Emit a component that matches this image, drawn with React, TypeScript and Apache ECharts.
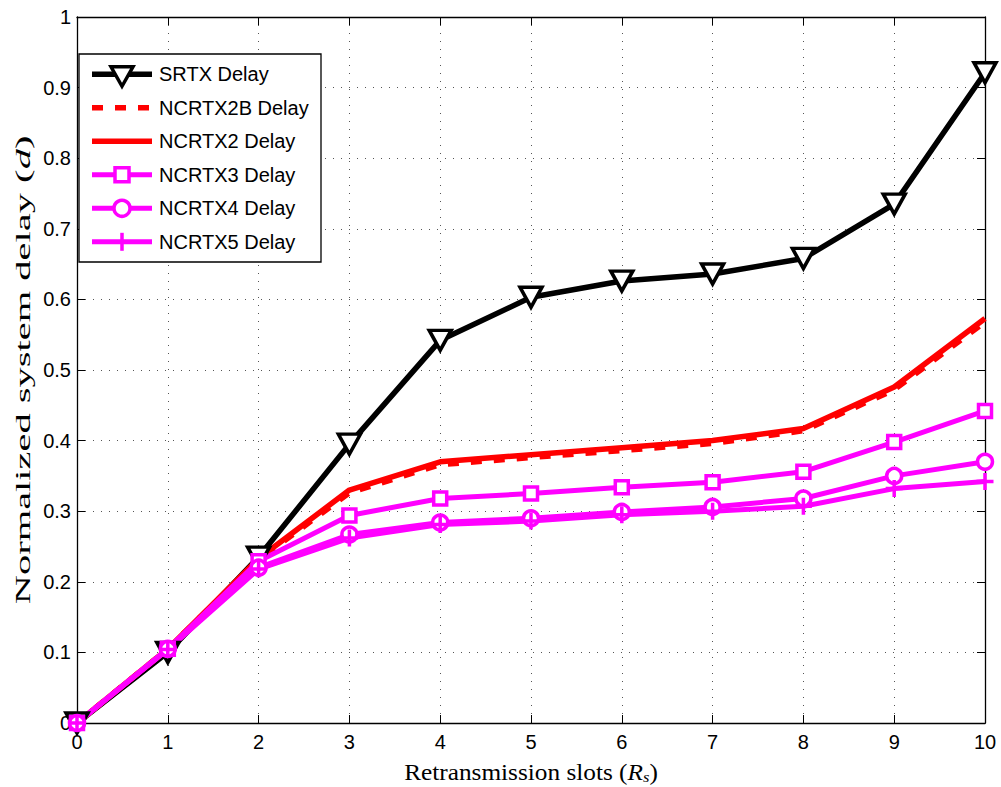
import React, { useEffect, useRef } from "react";
import * as echarts from "echarts";

const slots = [0, 1, 2, 3, 4, 5, 6, 7, 8, 9, 10];
const srtx = [0, 0.1, 0.235, 0.395, 0.542, 0.603, 0.626, 0.636, 0.658, 0.735, 0.921];
const ncrtx2b = [0, 0.105, 0.231, 0.326, 0.366, 0.376, 0.386, 0.396, 0.414, 0.472, 0.568];
const ncrtx2 = [0, 0.105, 0.233, 0.33, 0.37, 0.38, 0.39, 0.4, 0.417, 0.476, 0.573];
const ncrtx3 = [0, 0.105, 0.229, 0.294, 0.318, 0.325, 0.334, 0.341, 0.356, 0.398, 0.442];
const ncrtx4 = [0, 0.105, 0.22, 0.267, 0.284, 0.29, 0.299, 0.306, 0.318, 0.35, 0.37];
const ncrtx5 = [0, 0.104, 0.218, 0.262, 0.281, 0.286, 0.295, 0.3, 0.307, 0.332, 0.342];
const seriesNames = [
  "SRTX Delay",
  "NCRTX2B Delay",
  "NCRTX2 Delay",
  "NCRTX3 Delay",
  "NCRTX4 Delay",
  "NCRTX5 Delay",
];
const xTitle = "Retransmission slots ({i|R}{sub|s})";
const yTitle = "Normalized system delay ({i|d})";

const SANS = "'Liberation Sans', Arial, Helvetica, sans-serif";
const SERIF = "'Liberation Serif', 'Times New Roman', serif";
const MAG = "#ff00ff";
const RED = "#ff0000";
const DASH = [11, 12];

const pts = (ys: number[]) => slots.map((x, i) => [x, ys[i]]);

function legendGraphics() {
  const els: any[] = [];
  els.push({
    type: "rect",
    shape: { x: 79, y: 54, width: 242, height: 208 },
    style: { fill: "#fff", stroke: "#000", lineWidth: 1.3 },
    z: 100,
  });
  const x1 = 92, x2 = 152, cx = 122;
  const lineDefs = [
    { stroke: "#000", lineWidth: 5.5 },
    { stroke: RED, lineWidth: 5.5, lineDash: DASH },
    { stroke: RED, lineWidth: 5.5 },
    { stroke: MAG, lineWidth: 5 },
    { stroke: MAG, lineWidth: 5 },
    { stroke: MAG, lineWidth: 5 },
  ];
  seriesNames.forEach((name, i) => {
    const cy = 74.3 + 33.5 * i;
    els.push({
      type: "line",
      shape: { x1, y1: cy, x2, y2: cy },
      style: { ...lineDefs[i], fill: null },
      z: 101,
    });
    if (i === 0) {
      els.push({
        type: "polygon",
        shape: { points: [[cx - 11, cy - 7.5], [cx + 11, cy - 7.5], [cx, cy + 12]] },
        style: { fill: "#fff", stroke: "#000", lineWidth: 3.5 },
        z: 102,
      });
    } else if (i === 3) {
      els.push({
        type: "rect",
        shape: { x: cx - 7, y: cy - 7, width: 14, height: 14 },
        style: { fill: "#fff", stroke: MAG, lineWidth: 3.5 },
        z: 102,
      });
    } else if (i === 4) {
      els.push({
        type: "circle",
        shape: { cx, cy, r: 8 },
        style: { fill: "#fff", stroke: MAG, lineWidth: 3.5 },
        z: 102,
      });
    } else if (i === 5) {
      els.push({
        type: "line",
        shape: { x1: cx, y1: cy - 9, x2: cx, y2: cy + 9 },
        style: { stroke: MAG, lineWidth: 3.5 },
        z: 102,
      });
    }
    els.push({
      type: "text",
      x: 159,
      y: cy,
      style: {
        text: name,
        fontFamily: SANS,
        fontSize: 20,
        fill: "#000",
        align: "left",
        verticalAlign: "middle",
      },
      z: 102,
    });
  });
  return els;
}

export default function App() {
  const ref = useRef<HTMLDivElement>(null);
  useEffect(() => {
    if (!ref.current) return;
    const chart = echarts.init(ref.current, undefined, { renderer: "svg" });
    const grid = { left: 77, right: 16, top: 17, bottom: 64, outerBoundsMode: "none", containLabel: false };
    const gridLine = { show: true, lineStyle: { color: "#555", width: 1, type: [1, 7] as any } };
    const axisLine = { show: true, onZero: false, lineStyle: { color: "#000", width: 1.3 } };
    const tick = { show: true, inside: true, length: 8, lineStyle: { color: "#000", width: 1 } };
    const plus = "path://M0,5 L10,5 M5,0 L5,10";
    const titleRich = {
      i: { fontFamily: SERIF, fontSize: 23, fontStyle: "italic", fill: "#000" },
      sub: {
        fontFamily: SERIF,
        fontSize: 15,
        fontStyle: "italic",
        fill: "#000",
        verticalAlign: "bottom",
        padding: [10, 0, 0, 0],
      },
    };
    const option: any = {
      animation: false,
      backgroundColor: "#fff",
      grid,
      xAxis: [
        {
          type: "value",
          min: 0,
          max: 10,
          interval: 1,
          axisLine,
          axisTick: tick,
          axisLabel: { fontFamily: SANS, fontSize: 20, color: "#000", margin: 9 },
          splitLine: gridLine,
        },
        {
          type: "value",
          position: "top",
          min: 0,
          max: 10,
          interval: 1,
          axisLine,
          axisTick: tick,
          axisLabel: { show: false },
          splitLine: { show: false },
        },
      ],
      yAxis: [
        {
          type: "value",
          min: 0,
          max: 1,
          interval: 0.1,
          axisLine,
          axisTick: tick,
          axisLabel: { fontFamily: SANS, fontSize: 20, color: "#000", margin: 6 },
          splitLine: gridLine,
        },
        {
          type: "value",
          position: "right",
          min: 0,
          max: 1,
          interval: 0.1,
          axisLine,
          axisTick: tick,
          axisLabel: { show: false },
          splitLine: { show: false },
        },
      ],
      graphic: [
        {
          type: "text",
          x: 531,
          y: 772,
          scaleX: 1.1,
          style: {
            text: xTitle,
            fontFamily: SERIF,
            fontSize: 23,
            fill: "#000",
            align: "center",
            verticalAlign: "middle",
            rich: titleRich,
          },
        },
        {
          type: "group",
          x: 23,
          y: 370,
          rotation: Math.PI / 2,
          children: [
            {
              type: "text",
              x: 0,
              y: 0,
              scaleX: 1.84,
              scaleY: 1,
              style: {
                text: yTitle,
                fontFamily: SERIF,
                fontSize: 22,
                fill: "#000",
                align: "center",
                verticalAlign: "middle",
                rich: {
                  i: { fontFamily: SERIF, fontSize: 22, fontStyle: "italic", fill: "#000" },
                },
              },
            },
          ],
        },
        ...legendGraphics(),
      ],
      series: [
        {
          name: seriesNames[0],
          type: "line",
          data: pts(srtx),
          symbol: "triangle",
          symbolRotate: 180,
          symbolSize: [22, 20],
          showAllSymbol: true,
          lineStyle: { color: "#000", width: 5.5 },
          itemStyle: { color: "#fff", borderColor: "#000", borderWidth: 3.5 },
        },
        {
          name: seriesNames[1],
          type: "line",
          data: pts(ncrtx2b),
          symbol: "none",
          lineStyle: { color: RED, width: 5.5, type: DASH },
          itemStyle: { color: RED },
        },
        {
          name: seriesNames[2],
          type: "line",
          data: pts(ncrtx2),
          symbol: "none",
          lineStyle: { color: RED, width: 5.5 },
          itemStyle: { color: RED },
        },
        {
          name: seriesNames[3],
          type: "line",
          data: pts(ncrtx3),
          symbol: "rect",
          symbolSize: 13,
          lineStyle: { color: MAG, width: 5 },
          itemStyle: { color: "#fff", borderColor: MAG, borderWidth: 3.5 },
        },
        {
          name: seriesNames[4],
          type: "line",
          data: pts(ncrtx4),
          symbol: "circle",
          symbolSize: 15,
          lineStyle: { color: MAG, width: 5 },
          itemStyle: { color: "#fff", borderColor: MAG, borderWidth: 3.5 },
        },
        {
          name: seriesNames[5],
          type: "line",
          data: pts(ncrtx5),
          symbol: plus,
          symbolSize: 17,
          lineStyle: { color: MAG, width: 5 },
          itemStyle: { color: "none", borderColor: MAG, borderWidth: 3.5 },
        },
      ],
    };
    chart.setOption(option);
    return () => chart.dispose();
  }, []);
  return (
    <div
      ref={ref}
      style={{ position: "fixed", left: 0, top: 0, width: 1001, height: 787, background: "#fff" }}
    />
  );
}
